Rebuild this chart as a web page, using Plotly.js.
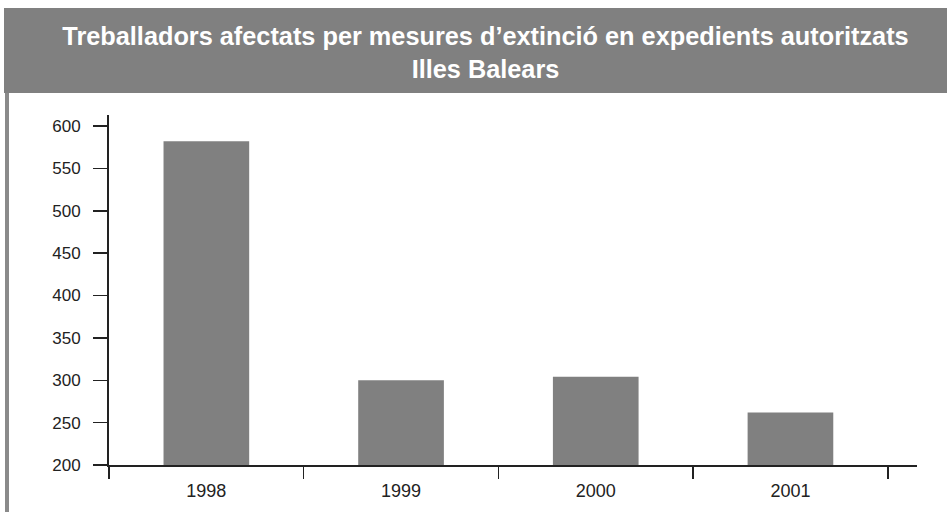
<!DOCTYPE html>
<html>
<head>
<meta charset="utf-8">
<script src="https://cdn.plot.ly/plotly-3.0.1.min.js"></script>
<style>html,body{margin:0;padding:0;background:#fff;}#chart{width:947px;height:512px;}</style>
</head>
<body>
<div id="chart"></div>
<script>
var years = ['1998', '1999', '2000', '2001'];
var workers = [582, 300, 304, 262];
var yTicks = [200, 250, 300, 350, 400, 450, 500, 550, 600];
var titleText = 'Treballadors afectats per mesures d\u2019extinció en expedients autoritzats<br>Illes Balears';

var L = 109, R = 917, T = 115, B = 465, W = 947, H = 512;
function px(x) { return (x - L) / (R - L); }
function py(y) { return (B - y) / (B - T); }

var trace = {
  type: 'bar',
  x: years,
  y: workers,
  width: 0.44,
  marker: {color: '#808080', line: {width: 0}},
  hoverinfo: 'x+y'
};

var layout = {
  width: W, height: H,
  margin: {l: L, r: W - R, t: T, b: H - B, pad: 0},
  paper_bgcolor: '#ffffff',
  plot_bgcolor: '#ffffff',
  showlegend: false,
  title: {
    text: titleText,
    font: {family: 'Liberation Sans, Arial, sans-serif', size: 25.3, color: '#ffffff', weight: 'bold'},
    xref: 'container', x: 485.5 / W, xanchor: 'center',
    yref: 'container', y: 1 - 45 / H, yanchor: 'middle'
  },
  xaxis: {
    type: 'category',
    range: [-0.5, 3.65],
    tickson: 'boundaries',
    ticks: 'outside', ticklen: 12, tickwidth: 1.5, tickcolor: '#222',
    showline: true, linecolor: '#222', linewidth: 2,
    showgrid: false, zeroline: false,
    tickfont: {family: 'Liberation Sans, Arial, sans-serif', size: 18, color: '#222'},
    ticklabelstandoff: 8
  },
  yaxis: {
    range: [200, 613],
    tickvals: yTicks,
    ticks: 'outside', ticklen: 14, tickwidth: 1.5, tickcolor: '#222',
    showline: true, linecolor: '#222', linewidth: 2,
    showgrid: false, zeroline: false,
    tickfont: {family: 'Liberation Sans, Arial, sans-serif', size: 17, color: '#222'},
    ticklabelstandoff: 9
  },
  shapes: [
    {type: 'rect', xref: 'paper', yref: 'paper', layer: 'below',
     x0: px(4), x1: px(947), y0: py(93), y1: py(8),
     fillcolor: '#808080', line: {width: 0}},
    {type: 'rect', xref: 'paper', yref: 'paper', layer: 'below',
     x0: px(5), x1: px(9), y0: py(512), y1: py(93),
     fillcolor: '#8a8a8a', line: {width: 0}}
  ]
};

Plotly.newPlot('chart', [trace], layout, {displayModeBar: false, staticPlot: true});
</script>
</body>
</html>
